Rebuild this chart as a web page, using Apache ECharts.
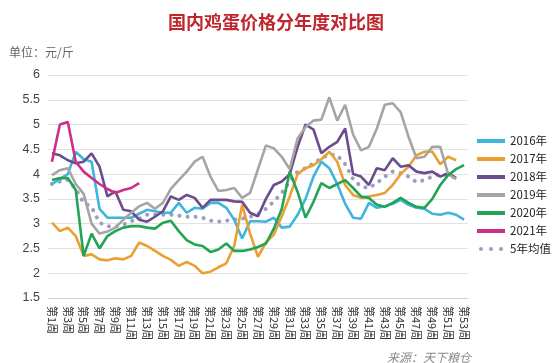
<!DOCTYPE html>
<html><head><meta charset="utf-8">
<script src="https://cdn.jsdelivr.net/npm/echarts@6/dist/echarts.min.js"></script>
<style>html,body{margin:0;padding:0;background:#fff}#c{width:552px;height:363px}</style>
</head><body><div id="c"></div>
<script>
var weeks = [];
for (var i = 1; i <= 53; i++) weeks.push('第' + i + '周');

var s2016 = [3.8,3.9,4.0,4.45,4.3,4.25,3.3,3.12,3.12,3.12,3.12,3.2,3.28,3.25,3.22,3.22,3.42,3.22,3.32,3.3,3.42,3.42,3.32,3.08,2.7,3.05,3.05,3.04,3.12,2.92,2.94,3.18,3.5,3.95,4.25,4.12,3.8,3.4,3.12,3.1,3.42,3.32,3.35,3.4,3.48,3.38,3.32,3.3,3.2,3.18,3.22,3.18,3.08];
var s2017 = [3.02,2.85,2.92,2.75,2.35,2.38,2.28,2.26,2.3,2.28,2.35,2.62,2.55,2.45,2.35,2.27,2.15,2.23,2.15,2.0,2.03,2.12,2.2,2.55,3.38,2.8,2.33,2.62,2.78,3.15,3.55,4.0,4.12,4.18,4.3,4.45,4.25,3.78,3.58,3.52,3.55,3.58,3.62,3.78,4.0,4.15,4.38,4.45,4.45,4.2,4.35,4.28];
var s2018 = [4.42,4.38,4.28,4.22,4.25,4.42,4.15,3.55,3.65,3.28,3.25,3.08,3.04,3.14,3.25,3.55,3.48,3.58,3.52,3.32,3.48,3.48,3.48,3.45,3.44,3.22,3.15,3.5,3.78,3.85,4.0,4.55,5.0,4.9,4.42,4.55,4.65,4.92,4.0,3.95,3.78,4.12,4.08,4.32,4.15,4.18,4.05,4.02,4.05,3.95,4.02,3.92];
var s2019 = [3.98,4.08,4.12,3.8,3.6,3.0,2.8,2.84,2.92,3.08,3.22,3.35,3.42,3.3,3.42,3.7,3.88,4.05,4.25,4.35,3.95,3.66,3.68,3.72,3.52,3.62,4.1,4.58,4.52,4.35,4.1,4.72,4.95,5.08,5.1,5.55,5.08,5.4,4.8,4.48,4.55,4.92,5.4,5.43,5.25,4.75,4.32,4.35,4.55,4.55,4.0,3.9];
var s2020 = [3.88,3.92,3.92,3.68,2.35,2.8,2.5,2.75,2.85,2.92,2.95,2.95,2.92,2.9,3.02,3.06,2.85,2.67,2.58,2.55,2.43,2.48,2.6,2.45,2.45,2.48,2.53,2.6,2.9,3.3,4.05,3.64,3.12,3.44,3.82,3.72,3.8,3.88,3.72,3.55,3.52,3.38,3.34,3.42,3.52,3.42,3.34,3.32,3.5,3.78,3.98,4.1,4.18];
var s2021 = [4.25,5.0,5.05,4.25,4.05,3.92,3.8,3.7,3.62,3.68,3.72,3.82];
var sAvg = [3.8,3.85,3.88,3.7,3.42,3.34,3.02,2.95,2.94,2.98,3.05,3.1,3.18,3.18,3.18,3.18,3.16,3.14,3.14,3.12,3.06,3.04,3.06,3.08,3.1,3.14,3.2,3.3,3.45,3.62,3.85,4.05,4.12,4.22,4.32,4.4,4.38,4.2,3.9,3.75,3.72,3.82,3.95,4.05,4.02,3.95,3.84,3.88,3.95,4.0,3.98,3.92];

var names = ['2016年','2017年','2018年','2019年','2020年','2021年','5年均值'];
var colors = ['#3db5dc','#eaa032','#6b4c8c','#a5a5a5','#22a356','#cc2f8a','#9e9cc0'];
var datas = [s2016,s2017,s2018,s2019,s2020,s2021,sAvg];

var dotIcon = 'path://M0,2a2,2 0 1,0 4,0a2,2 0 1,0 -4,0M10,2a2,2 0 1,0 4,0a2,2 0 1,0 -4,0M20,2a2,2 0 1,0 4,0a2,2 0 1,0 -4,0';

var series = names.map(function(n, k){
  var dotted = (k === 6);
  return {
    name: n, type: 'line', data: datas[k], showSymbol: false, symbol: 'none',
    z: dotted ? 1 : 2,
    lineStyle: dotted ? {color: colors[k], width: 4, type: [0.1, 8], cap: 'round'} :
                        {color: colors[k], width: 2.6},
    itemStyle: {color: colors[k]}
  };
});

var chart = echarts.init(document.getElementById('c'));
chart.setOption({
  animation: false,
  backgroundColor: '#fff',
  title: [{
    text: '国内鸡蛋价格分年度对比图', left: 'center', top: 8,
    textStyle: {color: '#c0262d', fontSize: 18, fontWeight: 'bold', fontFamily: 'Noto Sans CJK SC'}
  },{
    text: '单位：元/斤', left: 4, top: 41,
    textStyle: {color: '#666', fontSize: 12, fontWeight: 'normal', fontFamily: 'Noto Sans CJK SC'}
  },{
    text: '来源：天下粮仓', left: 382, top: 346,
    textStyle: {color: '#888', fontSize: 12, fontWeight: 'normal', fontStyle: 'italic', fontFamily: 'Noto Sans CJK SC'}
  }],
  legend: {
    orient: 'vertical', left: 472, top: 129, itemWidth: 28, itemHeight: 4, itemGap: 4,
    textStyle: {color: '#222', fontSize: 11.5, fontFamily: 'Noto Sans CJK SC', padding: [0,0,0,0], lineHeight: 14},
    itemStyle: {borderWidth: 0},
    data: names.map(function(n, k){ return {name: n, icon: k === 6 ? dotIcon : 'rect'}; })
  },
  grid: {left: 48, right: 84, top: 75, bottom: 65},
  xAxis: {
    type: 'category', data: weeks, boundaryGap: true,
    axisLine: {lineStyle: {color: '#d0d0d0', width: 1}},
    axisTick: {show: false},
    axisLabel: {interval: 1, rotate: -90, color: '#333', fontSize: 11, margin: 8, fontFamily: 'Noto Sans CJK SC'}
  },
  yAxis: {
    type: 'value', min: 1.5, max: 6, interval: 0.5,
    axisLine: {show: false}, axisTick: {show: false},
    axisLabel: {color: '#444', fontSize: 12.5, margin: 8, fontFamily: 'Liberation Sans'},
    splitLine: {lineStyle: {color: '#e2e2e2', width: 1}}
  },
  series: series
});
</script>
</body></html>
